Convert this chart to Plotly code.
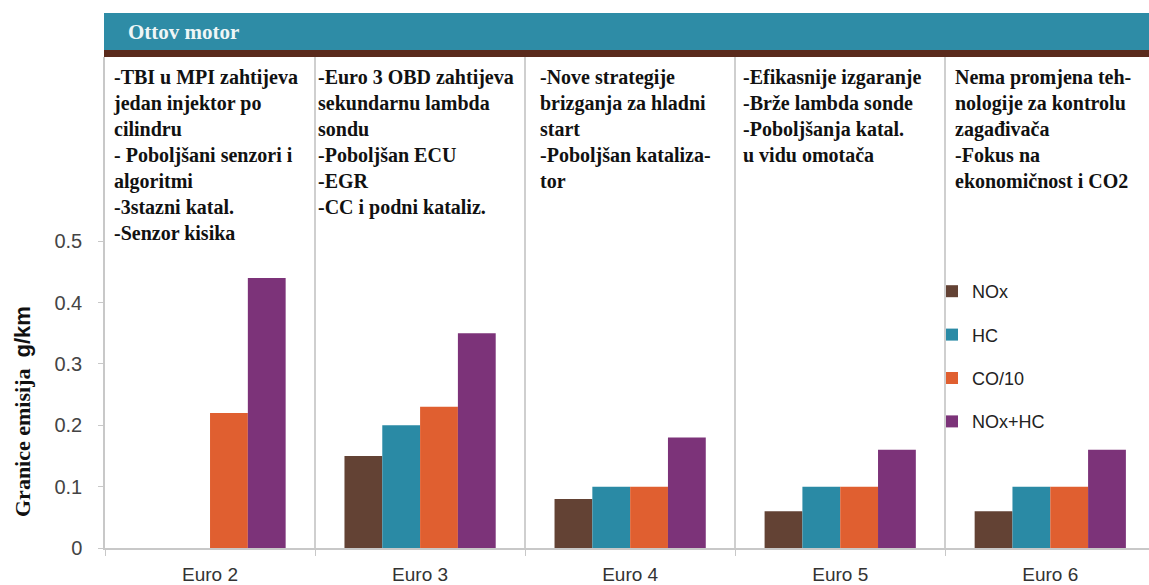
import plotly.graph_objects as go

categories = ["Euro 2", "Euro 3", "Euro 4", "Euro 5", "Euro 6"]
nox = [None, 0.15, 0.08, 0.06, 0.06]
hc = [None, 0.20, 0.10, 0.10, 0.10]
co10 = [0.22, 0.23, 0.10, 0.10, 0.10]
nox_hc = [0.44, 0.35, 0.18, 0.16, 0.16]
series_names = ["NOx", "HC", "CO/10", "NOx+HC"]
series_colors = ["#634234", "#2a8aa5", "#e05f30", "#7c3379"]

column_texts = [
    "-TBI u MPI zahtijeva<br>jedan injektor po<br>cilindru<br>- Poboljšani senzori i<br>algoritmi<br>-3stazni katal.<br>-Senzor kisika",
    "-Euro 3 OBD zahtijeva<br>sekundarnu lambda<br>sondu<br>-Poboljšan ECU<br>-EGR<br>-CC i podni kataliz.",
    "-Nove strategije<br>brizganja za hladni<br>start<br>-Poboljšan kataliza-<br>tor",
    "-Efikasnije izgaranje<br>-Brže lambda sonde<br>-Poboljšanja katal.<br>u vidu omotača",
    "Nema promjena teh-<br>nologije za kontrolu<br>zagađivača<br>-Fokus na<br>ekonomičnost i CO2",
]
text_shifts = [6, 1, 13, 6, 8]
title_text = "Ottov motor"
y_title = 'Granice emisija  <span style="font-family:Liberation Sans">g/km</span>'

W, H = 1149, 585
L, R, T, B = 105, 0, 57, 37
pw = W - L - R
ph = H - T - B

fig = go.Figure()
for name, vals, col in zip(series_names, [nox, hc, co10, nox_hc], series_colors):
    fig.add_trace(go.Bar(x=categories, y=vals, name=name, marker_color=col,
                         marker_line_width=0, legendgroup=name))

serif = "Liberation Serif"
sans = "Liberation Sans"

annotations = []
for i, (txt, sh) in enumerate(zip(column_texts, text_shifts)):
    annotations.append(dict(
        x=i - 0.5, xref="x", y=(H - B - 64) / ph, yref="paper",
        xanchor="left", yanchor="top", align="left", xshift=sh,
        text=txt, showarrow=False,
        font=dict(family=serif, size=20, color="#111111", weight="bold"),
    ))
annotations.append(dict(
    x=(126 - L) / pw, xref="paper", y=(H - B - 32) / ph, yref="paper",
    xanchor="left", yanchor="middle", text=title_text, showarrow=False,
    font=dict(family=serif, size=21, color="#eef6f6", weight="bold"),
))
annotations.append(dict(
    x=(22 - L) / pw, xref="paper", y=(H - B - 412) / ph, yref="paper",
    xanchor="center", yanchor="middle", textangle=-90, text=y_title,
    showarrow=False,
    font=dict(family=serif, size=22, color="#111111", weight="bold"),
))

shapes = [
    dict(type="rect", xref="paper", yref="paper",
         x0=(104 - L) / pw, x1=1.0, y0=(H - B - 50) / ph, y1=(H - B - 13) / ph,
         fillcolor="#2e8ca6", line_width=0, layer="above"),
    dict(type="rect", xref="paper", yref="paper",
         x0=(104 - L) / pw, x1=1.0, y0=(H - B - 57) / ph, y1=(H - B - 50) / ph,
         fillcolor="#5a2a1c", line_width=0, layer="above"),
]

fig.update_layout(
    width=W, height=H,
    margin=dict(l=L, r=R, t=T, b=B, autoexpand=False),
    paper_bgcolor="white", plot_bgcolor="white",
    barmode="group", bargap=0.28, bargroupgap=0,
    showlegend=True,
    legend=dict(x=(932 - L) / pw, y=(H - B - 273) / ph, xanchor="left", yanchor="top",
                font=dict(family=sans, size=18, color="#222222"),
                tracegroupgap=17, bgcolor="rgba(0,0,0,0)", itemwidth=30,
                traceorder="grouped"),
    xaxis=dict(range=[-0.5, 4.47], tickson="boundaries", showgrid=True,
               gridcolor="#cfcfcf", gridwidth=1.5, showline=True, linecolor="#c8c8c8",
               linewidth=1.5, ticks="outside", ticklen=6, tickcolor="#c8c8c8",
               tickfont=dict(family=sans, size=19, color="#333333"),
               ticklabelstandoff=8, zeroline=False),
    yaxis=dict(range=[0, 0.8], tickvals=[0, 0.1, 0.2, 0.3, 0.4, 0.5],
               ticktext=["0", "0.1", "0.2", "0.3", "0.4", "0.5"],
               showgrid=False, showline=True, linecolor="#c8c8c8", linewidth=1.5,
               ticks="outside", ticklen=5, tickcolor="#c8c8c8",
               tickfont=dict(family=sans, size=20, color="#444444"),
               ticklabelstandoff=12, zeroline=False),
    annotations=annotations, shapes=shapes,
)

fig.write_html("out.html", config={"displayModeBar": False},
               post_script="document.body.style.margin='0px';document.body.style.overflow='hidden';")
